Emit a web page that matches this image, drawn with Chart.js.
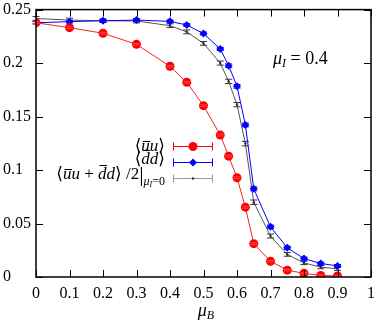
<!DOCTYPE html>
<html lang="en">
<head>
<meta charset="utf-8">
<title>Condensates vs muB</title>
<script src="https://cdn.jsdelivr.net/npm/chart.js@4.4.0/dist/chart.umd.min.js"></script>
<style>
  html, body { margin: 0; padding: 0; background: #fff; }
  #wrap { width: 382px; height: 323px; }
</style>
</head>
<body>
<div id="wrap"><canvas id="chart" width="382" height="323"></canvas></div>
<script>
// baryon chemical potential values (x)
const muB = [0, 0.1, 0.2, 0.3, 0.4, 0.45, 0.5, 0.55, 0.575, 0.6, 0.625, 0.65, 0.7, 0.75, 0.8, 0.85, 0.9];

// <ubar u>
const uuVals = [0.2377, 0.2331, 0.2279, 0.2175, 0.197, 0.182, 0.1602, 0.1327, 0.113, 0.0928, 0.0653, 0.0312, 0.0147, 0.0064, 0.0034, 0.0015, 0.0009];
const uuErr  = [0.0008, 0.0008, 0.0008, 0.0008, 0.0008, 0.0008, 0.0008, 0.0009, 0.0009, 0.0009, 0.0009, 0.0009, 0.0008, 0.0007, 0.0006, 0.0005, 0.0005];

// <dbar d>
const ddVals = [0.2377, 0.2387, 0.2396, 0.2402, 0.239, 0.2356, 0.2276, 0.2132, 0.1976, 0.1783, 0.1422, 0.0824, 0.0469, 0.0273, 0.0172, 0.0126, 0.0104];
const ddErr  = [0.0012, 0.0012, 0.0012, 0.0013, 0.0013, 0.0013, 0.0014, 0.0015, 0.0016, 0.0017, 0.0018, 0.0018, 0.0016, 0.0015, 0.0014, 0.0013, 0.0013];

// <ubar u + dbar d>/2 at mu_I = 0
const avgVals = [0.2417, 0.2402, 0.2396, 0.2393, 0.235, 0.2292, 0.2184, 0.2, 0.1829, 0.1611, 0.1247, 0.0699, 0.0383, 0.0211, 0.0132, 0.0092, 0.0077];
const avgErr  = [0.0018, 0.0018, 0.0017, 0.0017, 0.0017, 0.0018, 0.0018, 0.0019, 0.002, 0.002, 0.0021, 0.0021, 0.0019, 0.0017, 0.0016, 0.0015, 0.0015];

const xTicks = [0, 0.1, 0.2, 0.3, 0.4, 0.5, 0.6, 0.7, 0.8, 0.9, 1];
const yTicks = [0, 0.05, 0.1, 0.15, 0.2, 0.25];
const errors = [uuErr, ddErr, avgErr];

const serif = '"Liberation Serif", "DejaVu Serif", serif';

function pts(ys) {
  return muB.map((x, i) => ({ x: x, y: ys[i] }));
}

// draw a small run of math-ish text; parts may carry an overline height
function drawMath(ctx, parts, x, y, align) {
  let w = 0;
  parts.forEach(p => { ctx.font = p.f; w += ctx.measureText(p.t).width; });
  let cx = align === 'right' ? x - w : (align === 'center' ? x - w / 2 : x);
  ctx.textBaseline = 'alphabetic';
  ctx.textAlign = 'left';
  parts.forEach(p => {
    ctx.font = p.f;
    const pw = ctx.measureText(p.t).width;
    ctx.fillText(p.t, cx, y + (p.dy || 0));
    if (p.over) {
      ctx.beginPath();
      ctx.moveTo(cx + 1.5, y - p.over + 0.5);
      ctx.lineTo(cx + pw + 0.5, y - p.over + 0.5);
      ctx.lineWidth = 1;
      ctx.stroke();
    }
    cx += pw;
  });
}

const errorBars = {
  id: 'errorBars',
  afterDatasetDraw(chart, args) {
    const ctx = chart.ctx;
    const ys = chart.scales.y;
    const ds = chart.data.datasets[args.index];
    const err = errors[args.index];
    ctx.save();
    ctx.strokeStyle = ds.errColor;
    ctx.lineWidth = 1;
    args.meta.data.forEach((p, i) => {
      const v = ds.data[i].y;
      const top = ys.getPixelForValue(v + err[i]);
      const bot = ys.getPixelForValue(v - err[i]);
      ctx.beginPath();
      ctx.moveTo(p.x, top); ctx.lineTo(p.x, bot);
      ctx.moveTo(p.x - 3.5, top); ctx.lineTo(p.x + 3.5, top);
      ctx.moveTo(p.x - 3.5, bot); ctx.lineTo(p.x + 3.5, bot);
      ctx.stroke();
    });
    ctx.restore();
  }
};

const frame = {
  id: 'frame',
  afterDraw(chart) {
    const ctx = chart.ctx;
    const a = chart.chartArea;
    const xs = chart.scales.x, ys = chart.scales.y;
    ctx.save();
    ctx.strokeStyle = '#000';
    ctx.lineWidth = 1.5;
    ctx.strokeRect(a.left, a.top, a.right - a.left, a.bottom - a.top);
    ctx.lineWidth = 1;
    ctx.beginPath();
    xTicks.forEach(v => {
      const px = Math.round(xs.getPixelForValue(v)) + 0.5;
      ctx.moveTo(px, a.bottom); ctx.lineTo(px, a.bottom - 7);
      ctx.moveTo(px, a.top); ctx.lineTo(px, a.top + 7);
    });
    yTicks.forEach(v => {
      const py = Math.round(ys.getPixelForValue(v)) + 0.5;
      ctx.moveTo(a.left, py); ctx.lineTo(a.left + 7, py);
      ctx.moveTo(a.right, py); ctx.lineTo(a.right - 7, py);
    });
    ctx.stroke();

    ctx.fillStyle = '#000';
    ctx.strokeStyle = '#000';
    const it = 'italic 18px ' + serif;
    const rm = '18px ' + serif;
    const sub = 'italic 12px ' + serif;
    // axis title
    drawMath(ctx, [{ t: 'μ', f: it }, { t: 'B', f: sub, dy: 3 }], 206, 316, 'center');
    // mu_I label
    drawMath(ctx, [{ t: 'μ', f: it }, { t: 'I', f: sub, dy: 3 }, { t: ' = 0.4', f: rm }], 273, 64, 'left');

    // legend
    const rows = [
      { y: 146, color: '#ff0000', style: 'circle', r: 4.5 },
      { y: 162, color: '#0000ff', style: 'diamond', r: 4 },
      { y: 178, color: '#999999', style: 'dot', r: 1.2 }
    ];
    rows.forEach(r => {
      ctx.strokeStyle = r.color;
      ctx.lineWidth = 1;
      ctx.beginPath();
      ctx.moveTo(173, r.y + 0.5); ctx.lineTo(213, r.y + 0.5);
      ctx.moveTo(173.5, r.y - 3.5); ctx.lineTo(173.5, r.y + 4.5);
      ctx.moveTo(212.5, r.y - 3.5); ctx.lineTo(212.5, r.y + 4.5);
      ctx.stroke();
      ctx.fillStyle = r.style === 'dot' ? '#333' : r.color;
      ctx.beginPath();
      if (r.style === 'diamond') {
        ctx.moveTo(193, r.y + 0.5 - r.r); ctx.lineTo(193 + r.r, r.y + 0.5);
        ctx.lineTo(193, r.y + 0.5 + r.r); ctx.lineTo(193 - r.r, r.y + 0.5);
        ctx.closePath();
      } else {
        ctx.arc(193, r.y + 0.5, r.r, 0, Math.PI * 2);
      }
      ctx.fill();
    });
    ctx.fillStyle = '#000';
    ctx.strokeStyle = '#000';
    const lit = 'italic 17px ' + serif;
    const lrm = '17px ' + serif;
    drawMath(ctx, [{ t: '⟨', f: lrm }, { t: 'u', f: lit, over: 10 }, { t: 'u', f: lit }, { t: '⟩', f: lrm }], 165, 151, 'right');
    drawMath(ctx, [{ t: '⟨', f: lrm }, { t: 'd', f: lit, over: 14 }, { t: 'd', f: lit }, { t: '⟩', f: lrm }], 165, 164, 'right');
    drawMath(ctx, [
      { t: '⟨', f: lrm }, { t: 'u', f: lit, over: 10 }, { t: 'u', f: lit }, { t: ' + ', f: lrm },
      { t: 'd', f: lit, over: 14 }, { t: 'd', f: lit }, { t: '⟩ /2', f: lrm }, { t: '|', f: '22px ' + serif, dy: 2 },
      { t: 'μ', f: 'italic 12px ' + serif, dy: 6 }, { t: 'I', f: 'italic 8px ' + serif, dy: 8 }, { t: '=0', f: '12px ' + serif, dy: 6 }
    ], 165, 179, 'right');
    ctx.restore();
  }
};

const ctx = document.getElementById('chart').getContext('2d');
new Chart(ctx, {
  type: 'scatter',
  data: {
    datasets: [
      {
        label: 'uu',
        data: pts(uuVals),
        showLine: true,
        borderColor: '#ff2020',
        backgroundColor: '#ff0000',
        borderWidth: 1,
        pointStyle: 'circle',
        pointRadius: 4.5,
        pointBorderWidth: 0,
        errColor: '#ff4040'
      },
      {
        label: 'dd',
        data: pts(ddVals),
        showLine: true,
        borderColor: '#0000ff',
        backgroundColor: '#0000ff',
        borderWidth: 1,
        pointStyle: 'rectRot',
        pointRadius: 4,
        pointBorderWidth: 0,
        errColor: '#0000ff'
      },
      {
        label: 'avg',
        data: pts(avgVals),
        showLine: true,
        borderColor: '#555555',
        backgroundColor: '#333333',
        borderWidth: 1,
        pointStyle: 'circle',
        pointRadius: 1.2,
        pointBorderWidth: 0,
        errColor: '#333333'
      }
    ]
  },
  options: {
    responsive: false,
    animation: false,
    layout: { padding: { left: 3, right: 6, top: 5, bottom: 0 } },
    plugins: { legend: { display: false }, tooltip: { enabled: false } },
    scales: {
      x: {
        type: 'linear', min: 0, max: 1,
        afterBuildTicks: s => { s.ticks = xTicks.map(v => ({ value: v })); },
        afterFit: s => { s.height = 46; },
        grid: { display: false, drawTicks: false },
        border: { display: false },
        ticks: { padding: 7, color: '#000', font: { family: serif, size: 16 }, maxRotation: 0, callback: v => String(v) }
      },
      y: {
        type: 'linear', min: 0, max: 0.25,
        afterBuildTicks: s => { s.ticks = yTicks.map(v => ({ value: v })); },
        afterFit: s => { s.width = 33; },
        grid: { display: false, drawTicks: false },
        border: { display: false },
        ticks: { padding: 0, crossAlign: 'far', color: '#000', font: { family: serif, size: 16 }, callback: v => String(v) }
      }
    }
  },
  plugins: [errorBars, frame]
});
</script>
</body>
</html>
